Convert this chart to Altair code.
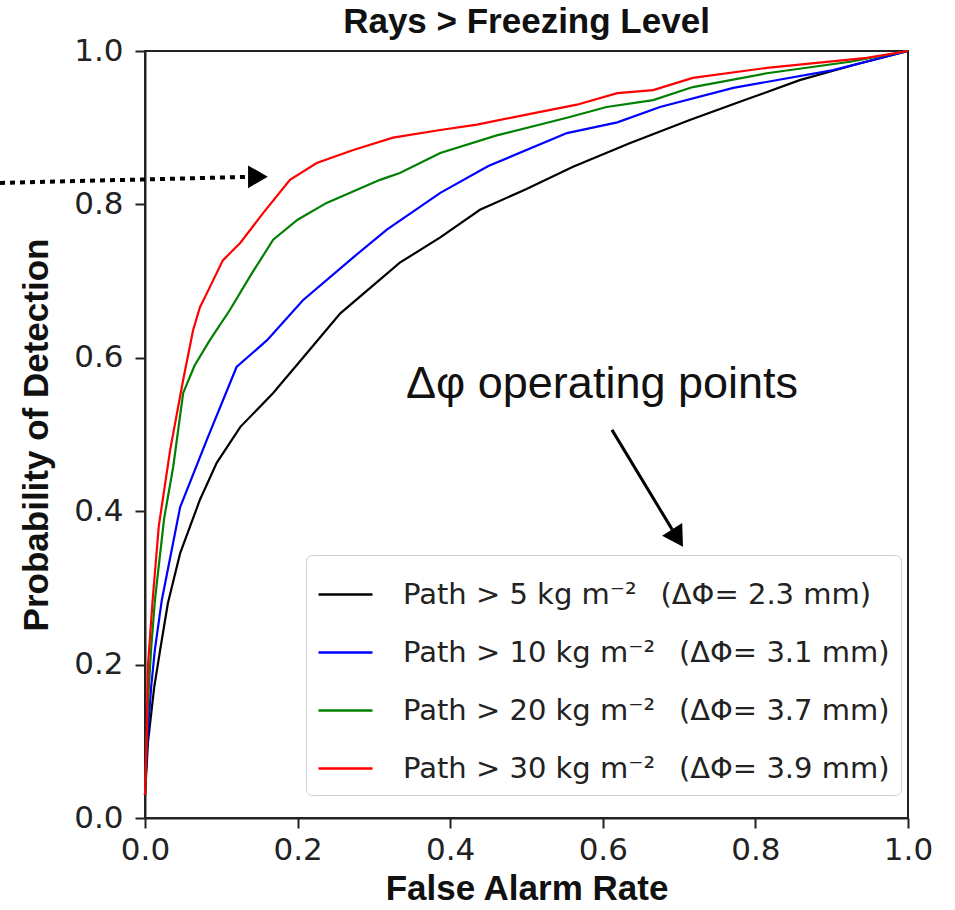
import altair as alt
import pandas as pd

labels = [
    "Path > 5 kg m⁻²\u2002 (ΔΦ= 2.3 mm)",
    "Path > 10 kg m⁻²\u2002 (ΔΦ= 3.1 mm)",
    "Path > 20 kg m⁻²\u2002 (ΔΦ= 3.7 mm)",
    "Path > 30 kg m⁻²\u2002 (ΔΦ= 3.9 mm)",
]
colors = ["#000000", "#0000ff", "#008000", "#ff0000"]

fpr_5 = [0, 0.004, 0.012, 0.02, 0.03, 0.046, 0.072, 0.094, 0.125, 0.168, 0.212, 0.256,
         0.334, 0.387, 0.439, 0.5, 0.561, 0.636, 0.714, 0.786, 0.858, 0.93, 1.0]
pod_5 = [0.03, 0.10, 0.17, 0.22, 0.28, 0.345, 0.415, 0.463, 0.51, 0.554, 0.606, 0.658,
         0.724, 0.757, 0.793, 0.82, 0.849, 0.88, 0.91, 0.936, 0.962, 0.982, 1.0]

fpr_10 = [0, 0.003, 0.008, 0.013, 0.022, 0.046, 0.081, 0.12, 0.16, 0.207, 0.273, 0.317,
          0.387, 0.45, 0.553, 0.619, 0.675, 0.771, 0.902, 1.0]
pod_10 = [0.03, 0.10, 0.17, 0.22, 0.284, 0.405, 0.493, 0.588, 0.623, 0.675, 0.731, 0.767,
          0.815, 0.85, 0.893, 0.907, 0.927, 0.952, 0.975, 1.0]

fpr_20 = [0, 0.002, 0.005, 0.008, 0.013, 0.025, 0.037, 0.05, 0.065, 0.085, 0.111, 0.14,
          0.168, 0.2, 0.238, 0.308, 0.334, 0.387, 0.461, 0.553, 0.605, 0.666, 0.718,
          0.815, 0.924, 1.0]
pod_20 = [0.03, 0.10, 0.17, 0.22, 0.284, 0.39, 0.458, 0.554, 0.59, 0.623, 0.662, 0.71,
          0.754, 0.78, 0.802, 0.832, 0.841, 0.867, 0.89, 0.913, 0.927, 0.936, 0.953,
          0.971, 0.986, 1.0]

fpr_30 = [0, 0.002, 0.004, 0.01, 0.018, 0.033, 0.05, 0.063, 0.072, 0.081, 0.102, 0.125,
          0.155, 0.19, 0.225, 0.273, 0.325, 0.387, 0.435, 0.5, 0.566, 0.619, 0.666,
          0.718, 0.815, 0.946, 1.0]
pod_30 = [0.03, 0.10, 0.20, 0.284, 0.38, 0.48, 0.571, 0.636, 0.666, 0.684, 0.727, 0.75,
          0.789, 0.832, 0.854, 0.871, 0.887, 0.897, 0.904, 0.917, 0.93, 0.945, 0.949,
          0.965, 0.978, 0.991, 1.0]

x_ticks = [0.0, 0.2, 0.4, 0.6, 0.8, 1.0]
y_ticks = [0.0, 0.2, 0.4, 0.6, 0.8, 1.0]

# annotations (data coordinates)
dot_arrow_x = [-0.19, 0.14]
dot_arrow_y = [0.828, 0.836]
dot_head_x = [0.148]
dot_head_y = [0.836]
diag_arrow_x = [0.612, 0.691]
diag_arrow_y = [0.506, 0.376]
diag_head_x = [0.698]
diag_head_y = [0.365]
note_text = ["Δφ operating points"]
note_x = [0.599]
note_y = [0.548]

rows = []
for lab, xs, ys in zip(labels, [fpr_5, fpr_10, fpr_20, fpr_30], [pod_5, pod_10, pod_20, pod_30]):
    for xv, yv in zip(xs, ys):
        rows.append({"fpr": xv, "pod": yv, "series": lab})
df = pd.DataFrame(rows)

xscale = alt.Scale(domain=[0, 1], nice=False, zero=False)
yscale = alt.Scale(domain=[0, 1], nice=False, zero=False)

lines = alt.Chart(df).mark_line(strokeWidth=2.2).encode(
    x=alt.X("fpr:Q", scale=xscale, title="False Alarm Rate",
            axis=alt.Axis(values=x_ticks, format=".1f", grid=False, labelFlush=False,
                          labelOverlap=False)),
    y=alt.Y("pod:Q", scale=yscale, title="Probability of Detection",
            axis=alt.Axis(values=y_ticks, format=".1f", grid=False, labelFlush=False,
                          labelOverlap=False)),
    color=alt.Color("series:N", sort=labels,
                    scale=alt.Scale(domain=labels, range=colors),
                    legend=alt.Legend(orient="none", legendX=161, legendY=504, title=None,
                                      symbolType="stroke", symbolSize=2916,
                                      symbolStrokeWidth=2.5, labelFont="DejaVu Sans",
                                      labelFontSize=29, labelOffset=29, padding=11,
                                      rowPadding=14, fillColor="white",
                                      strokeColor="#d0d0d0", cornerRadius=6,
                                      labelColor="#222", labelLimit=700)),
    detail="series:N",
)

dot_df = pd.DataFrame({"fpr": dot_arrow_x, "pod": dot_arrow_y})
dot_line = alt.Chart(dot_df).mark_line(color="black", strokeWidth=4, strokeDash=[5, 5],
                                       strokeCap="butt").encode(
    x=alt.X("fpr:Q", scale=xscale), y=alt.Y("pod:Q", scale=yscale))

dot_head = alt.Chart(pd.DataFrame({"fpr": dot_head_x, "pod": dot_head_y})).mark_point(
    shape="triangle-right", filled=True, color="black", size=520, opacity=1).encode(
    x=alt.X("fpr:Q", scale=xscale), y=alt.Y("pod:Q", scale=yscale))

diag_line = alt.Chart(pd.DataFrame({"fpr": diag_arrow_x, "pod": diag_arrow_y})).mark_line(
    color="black", strokeWidth=3).encode(
    x=alt.X("fpr:Q", scale=xscale), y=alt.Y("pod:Q", scale=yscale))

diag_head = alt.Chart(pd.DataFrame({"fpr": diag_head_x, "pod": diag_head_y})).mark_point(
    shape="triangle-down", filled=True, color="black", size=560, angle=328, opacity=1).encode(
    x=alt.X("fpr:Q", scale=xscale), y=alt.Y("pod:Q", scale=yscale))

note = alt.Chart(pd.DataFrame({"fpr": note_x, "pod": note_y, "t": note_text})).mark_text(
    font="Liberation Sans", fontSize=45, align="center", baseline="alphabetic",
    color="#111").encode(
    x=alt.X("fpr:Q", scale=xscale), y=alt.Y("pod:Q", scale=yscale), text="t:N")

chart = alt.layer(lines, dot_line, dot_head, diag_line, diag_head, note).properties(
    width=763, height=767,
    title=alt.TitleParams("Rays > Freezing Level", font="Liberation Sans", fontSize=35,
                          fontWeight="bold", offset=-5, color="#111", anchor="middle"),
    autosize=alt.AutoSizeParams(type="none"),
    padding={"left": 145, "top": 51, "right": 47, "bottom": 92},
    background="white",
).configure_view(stroke="#222", strokeWidth=2).configure_axis(
    domainColor="#222", domainWidth=2, tickColor="#222", tickWidth=2, tickSize=10,
    labelFont="DejaVu Sans", labelFontSize=31, labelColor="#222", labelPadding=12,
    titleFont="Liberation Sans", titleFontSize=35, titleFontWeight="bold",
    titleColor="#111",
).configure_axisX(titlePadding=6, labelPadding=7).configure_axisY(titlePadding=19)

chart.save("out.html", embed_options={"renderer": "svg", "actions": False})
